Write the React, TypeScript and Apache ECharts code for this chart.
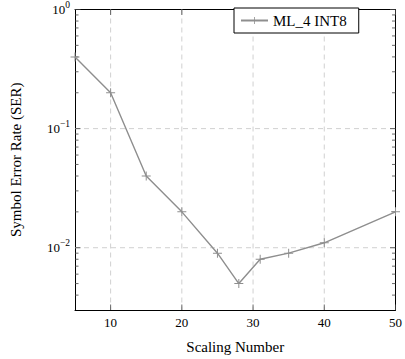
import React, { useEffect, useRef } from "react";
import * as echarts from "echarts";

const scalingNumbers = [5, 10, 15, 20, 25, 28, 31, 35, 40, 50];
const serValues = [0.4, 0.2, 0.04, 0.02, 0.009, 0.005, 0.008, 0.009, 0.011, 0.02];
const seriesName = "ML_4 INT8";
const xTicks = [10, 20, 30, 40, 50];
const minorTickValues = [
  0.004, 0.005, 0.006, 0.007, 0.008, 0.009,
  0.02, 0.03, 0.04, 0.05, 0.06, 0.07, 0.08, 0.09,
  0.2, 0.3, 0.4, 0.5, 0.6, 0.7, 0.8, 0.9,
];
const majorYTicks = [0.01, 0.1, 1];

const FONT = "Liberation Serif";
const GRAY = "#8e8e8e";
const PLUS =
  "path://M4.45,0 L5.55,0 L5.55,4.45 L10,4.45 L10,5.55 L5.55,5.55 L5.55,10 L4.45,10 L4.45,5.55 L0,5.55 L0,4.45 L4.45,4.45 Z";

export default function App() {
  const ref = useRef<HTMLDivElement>(null);
  useEffect(() => {
    if (!ref.current) return;
    const chart = echarts.init(ref.current, undefined, { renderer: "svg" });
    const yLabel = (v: number) => {
      const e = Math.round(Math.log10(v));
      if (Math.abs(Math.log10(v) - e) > 1e-6) return "";
      const s = e < 0 ? "\u2212" + Math.abs(e) : String(e);
      return `{b|10}{s|${s}}`;
    };
    const tickData = [
      ...minorTickValues.map((v) => [v, 3.5]),
      ...majorYTicks.map((v) => [v, 5.5]),
    ];
    chart.setOption({
      animation: false,
      textStyle: { fontFamily: FONT },
      grid: { left: 71, top: 9, right: 8, bottom: 48 },
      legend: {
        data: [seriesName],
        left: 234,
        top: 8,
        padding: [5, 12, 5, 6],
        itemWidth: 27,
        itemHeight: 9,
        borderColor: "#000",
        borderWidth: 1,
        borderRadius: 0,
        backgroundColor: "#fff",
        textStyle: { fontFamily: FONT, fontSize: 15, color: "#000" },
      },
      xAxis: [
        {
          type: "value",
          min: 5,
          max: 50,
          interval: 5,
          name: "Scaling Number",
          nameLocation: "middle",
          nameGap: 29,
          nameTextStyle: { fontFamily: FONT, fontSize: 15, color: "#000" },
          axisLine: { lineStyle: { color: "#000", width: 1 } },
          axisTick: { show: false },
          axisLabel: {
            fontFamily: FONT,
            fontSize: 13,
            color: "#000",
            margin: 6,
            formatter: (v: number) => (xTicks.includes(v) ? String(v) : ""),
          },
          splitLine: { show: false },
        },
        {
          type: "value",
          position: "top",
          min: 5,
          max: 50,
          interval: 5,
          axisLine: { show: true, lineStyle: { color: "#000", width: 1 } },
          axisTick: { show: false },
          axisLabel: { show: false },
          splitLine: { show: false },
        },
      ],
      yAxis: [
        {
          type: "log",
          logBase: 10,
          min: 0.003,
          max: 1,
          name: "Symbol Error Rate (SER)",
          nameLocation: "middle",
          nameGap: 52,
          nameTextStyle: { fontFamily: FONT, fontSize: 15, color: "#000" },
          axisLine: { show: true, lineStyle: { color: "#000", width: 1 } },
          axisTick: { show: false },
          axisLabel: {
            showMinLabel: false,
            margin: 5,
            formatter: yLabel,
            rich: {
              b: { fontFamily: FONT, fontSize: 13, color: "#000" },
              s: {
                fontFamily: FONT,
                fontSize: 9.5,
                color: "#000",
                verticalAlign: "top",
                padding: [0, 0, 9, 0],
              },
            },
          },
          splitLine: { show: false },
        },
        {
          type: "log",
          logBase: 10,
          min: 0.003,
          max: 1,
          position: "right",
          axisLine: { show: true, lineStyle: { color: "#000", width: 1 } },
          axisTick: { show: false },
          axisLabel: { show: false },
          splitLine: { show: false },
        },
      ],
      series: [
        {
          name: "gridlines",
          type: "custom",
          silent: true,
          z: 1,
          data: [
            ...xTicks.map((v) => [v, 0, 0]),
            ...majorYTicks.map((v) => [0, v, 1]),
          ],
          renderItem: (params: any, api: any) => {
            const cs = params.coordSys;
            const kind = api.value(2);
            const style = { stroke: "#d0d0d0", lineWidth: 1, lineDash: [5, 4] };
            if (kind === 0) {
              const x = api.coord([api.value(0), 0.5])[0];
              if (x >= cs.x + cs.width - 1) return null;
              return {
                type: "line",
                shape: { x1: x, y1: cs.y, x2: x, y2: cs.y + cs.height },
                style,
              };
            }
            const y = api.coord([10, api.value(1)])[1];
            if (y <= cs.y + 1) return null;
            return {
              type: "line",
              shape: { x1: cs.x, y1: y, x2: cs.x + cs.width, y2: y },
              style,
            };
          },
        },
        {
          name: "yticks",
          type: "custom",
          silent: true,
          z: 3,
          data: tickData,
          renderItem: (params: any, api: any) => {
            const cs = params.coordSys;
            const y = api.coord([10, api.value(0)])[1];
            const len = api.value(1);
            const style = { stroke: "#444", lineWidth: 0.8 };
            return {
              type: "group",
              children: [
                { type: "line", shape: { x1: cs.x, y1: y, x2: cs.x + len, y2: y }, style },
                {
                  type: "line",
                  shape: { x1: cs.x + cs.width - len, y1: y, x2: cs.x + cs.width, y2: y },
                  style,
                },
              ],
            };
          },
        },
        {
          name: "xticks",
          type: "custom",
          silent: true,
          z: 3,
          data: xTicks.map((v) => [v, 0.5]),
          renderItem: (params: any, api: any) => {
            const cs = params.coordSys;
            const x = api.coord([api.value(0), 0.5])[0];
            const style = { stroke: "#444", lineWidth: 0.8 };
            return {
              type: "group",
              children: [
                { type: "line", shape: { x1: x, y1: cs.y + cs.height, x2: x, y2: cs.y + cs.height - 5.5 }, style },
                { type: "line", shape: { x1: x, y1: cs.y, x2: x, y2: cs.y + 5.5 }, style },
              ],
            };
          },
        },
        {
          name: seriesName,
          type: "line",
          z: 5,
          data: scalingNumbers.map((x, i) => [x, serValues[i]]),
          symbol: PLUS,
          symbolSize: 9,
          showSymbol: true,
          lineStyle: { color: GRAY, width: 1.4 },
          itemStyle: { color: GRAY },
        },
      ],
    });
    return () => chart.dispose();
  }, []);
  return <div ref={ref} style={{ width: 405, height: 359, position: "absolute", left: 0, top: 0 }} />;
}
